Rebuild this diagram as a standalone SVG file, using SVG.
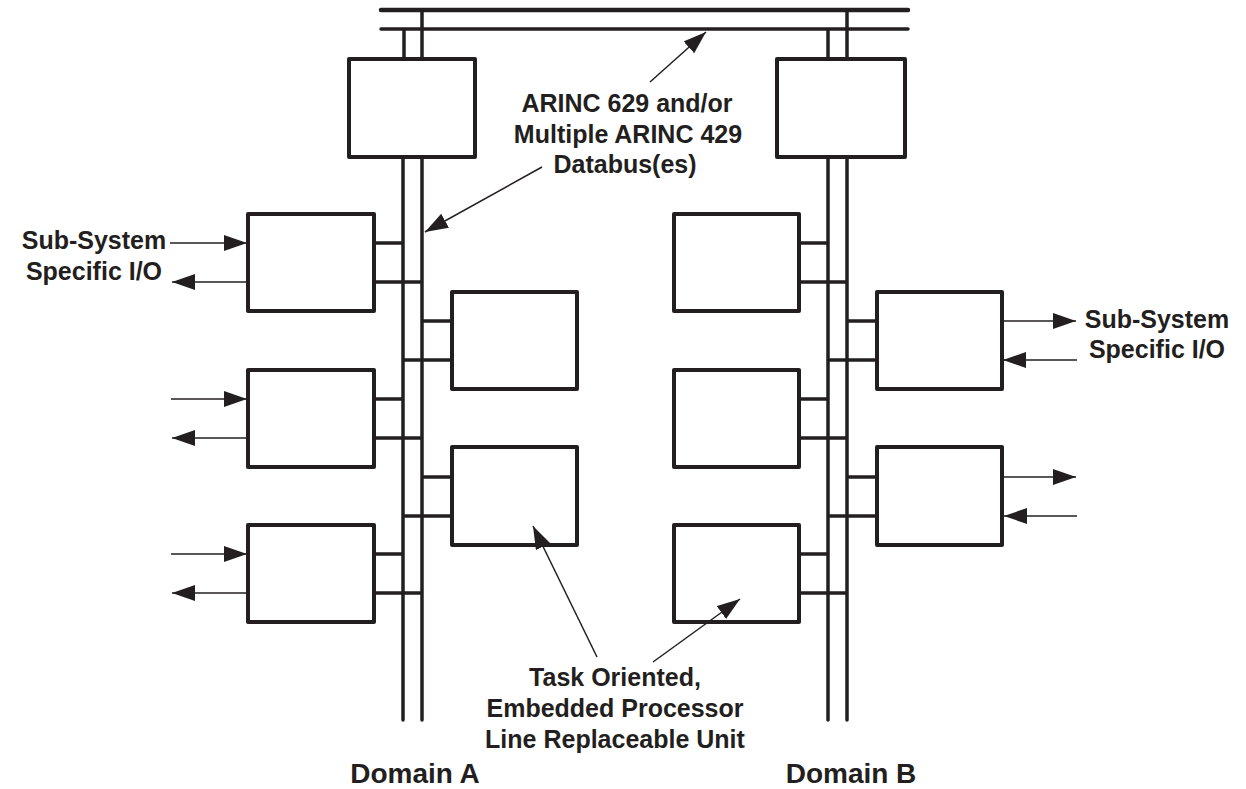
<svg xmlns="http://www.w3.org/2000/svg" width="1246" height="789" viewBox="0 0 1246 789">
<style>
.box{fill:#fff;stroke:#231f20;stroke-width:4;stroke-linejoin:round}
.bus{stroke:#231f20;stroke-width:3.5;fill:none;stroke-linecap:round}
.stub{stroke:#231f20;stroke-width:3.5;fill:none}
.io{stroke:#231f20;stroke-width:1.5;fill:none;marker-end:url(#ah)}
.ptr{stroke:#231f20;stroke-width:1.5;fill:none;marker-end:url(#ah)}
text{font-family:"Liberation Sans",Arial,sans-serif;font-weight:bold;font-size:25px;fill:#231f20;text-anchor:middle}
.dom{font-size:28px}
</style>
<defs>
<marker id="ah" markerUnits="userSpaceOnUse" markerWidth="24" markerHeight="18" viewBox="0 0 24 18" refX="23" refY="8" orient="auto">
<path d="M0,0 L23,8 L0,16 z" fill="#231f20"/>
</marker>
</defs>
<g id="connectors">
<line class="bus" x1="381" y1="10" x2="908" y2="10" style="stroke-width:4.5"/>
<line class="bus" x1="381" y1="29" x2="908" y2="29"/>
<line class="stub" x1="404" y1="29" x2="404" y2="59"/>
<line class="stub" x1="422" y1="10" x2="422" y2="59"/>
<line class="stub" x1="828" y1="29" x2="828" y2="59"/>
<line class="stub" x1="847" y1="10" x2="847" y2="59"/>
<line class="bus" x1="403" y1="157" x2="403" y2="720"/>
<line class="bus" x1="422" y1="157" x2="422" y2="720"/>
<line class="bus" x1="828" y1="157" x2="828" y2="720"/>
<line class="bus" x1="847" y1="157" x2="847" y2="720"/>
<path class="stub" d="M374,243H403M374,282H422M374,399H403M374,438H422M374,554H403M374,593H422M422,321H452M403,360H452M422,477H452M403,516H452"/>
<path class="stub" d="M799,243H828M799,282H847M799,399H828M799,438H847M799,554H828M799,593H847M847,321H877M828,360H877M847,477H877M828,516H877"/>
<line class="io" x1="170" y1="243" x2="247" y2="243"/>
<line class="io" x1="247" y1="282" x2="172" y2="282"/>
<line class="io" x1="171" y1="399" x2="247" y2="399"/>
<line class="io" x1="247" y1="438" x2="172" y2="438"/>
<line class="io" x1="171" y1="554" x2="247" y2="554"/>
<line class="io" x1="247" y1="593" x2="172" y2="593"/>
<line class="io" x1="1002" y1="321" x2="1076" y2="321"/>
<line class="io" x1="1077" y1="360" x2="1003" y2="360"/>
<line class="io" x1="1003" y1="477" x2="1076" y2="477"/>
<line class="io" x1="1077" y1="516" x2="1004" y2="516"/>
</g>
<g id="lru-a-top"><rect class="box" x="349" y="59" width="126" height="98"/></g>
<g id="lru-b-top"><rect class="box" x="777" y="59" width="128" height="98"/></g>
<g id="lru-a1"><rect class="box" x="248" y="214" width="126" height="97"/></g>
<g id="lru-a2"><rect class="box" x="248" y="370" width="126" height="97"/></g>
<g id="lru-a3"><rect class="box" x="248" y="525" width="126" height="97"/></g>
<g id="lru-a4"><rect class="box" x="452" y="292" width="125" height="97"/></g>
<g id="lru-a5"><rect class="box" x="452" y="447" width="125" height="98"/></g>
<g id="lru-b1"><rect class="box" x="674" y="214" width="125" height="97"/></g>
<g id="lru-b2"><rect class="box" x="674" y="370" width="125" height="97"/></g>
<g id="lru-b3"><rect class="box" x="674" y="525" width="125" height="97"/></g>
<g id="lru-b4"><rect class="box" x="877" y="292" width="125" height="97"/></g>
<g id="lru-b5"><rect class="box" x="877" y="447" width="125" height="98"/></g>
<g id="pointers">
<line class="ptr" x1="650" y1="82" x2="706" y2="32"/>
<line class="ptr" x1="542" y1="167" x2="425" y2="232"/>
<line class="ptr" x1="597" y1="657" x2="533" y2="526"/>
<line class="ptr" x1="653" y1="662" x2="740" y2="599"/>
</g>
<g id="label-io-left"><text x="94" y="249">Sub-System</text><text x="94" y="280">Specific I/O</text></g>
<g id="label-io-right"><text x="1157" y="328">Sub-System</text><text x="1157" y="358">Specific I/O</text></g>
<g id="label-bus"><text x="627" y="112">ARINC 629 and/or</text><text x="628" y="143">Multiple ARINC 429</text><text x="625" y="173">Databus(es)</text></g>
<g id="label-lru"><text x="615" y="686">Task Oriented,</text><text x="615" y="717">Embedded Processor</text><text x="615" y="748">Line Replaceable Unit</text></g>
<g id="label-domain-a"><text class="dom" x="415" y="783">Domain A</text></g>
<g id="label-domain-b"><text class="dom" x="851" y="783">Domain B</text></g>
</svg>
